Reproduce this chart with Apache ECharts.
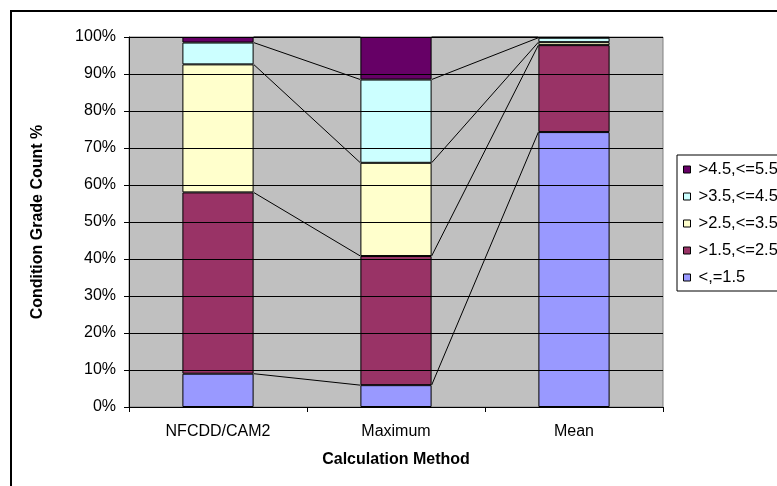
<!DOCTYPE html>
<html>
<head>
<meta charset="utf-8">
<script src="https://cdn.jsdelivr.net/npm/echarts@6/dist/echarts.min.js"></script>
<style>
  html, body { margin: 0; padding: 0; background: #fff; }
  #chart { width: 777px; height: 486px; }
</style>
</head>
<body>
<div id="chart"></div>
<script>
// Calculation methods on the category axis
const methods = ['NFCDD/CAM2', 'Maximum', 'Mean'];

// Share of condition grades (%) per method, bottom band first
const grade_le_1_5 = [9.0, 5.9, 74.3];
const grade_1_5_2_5 = [49.0, 34.9, 23.5];
const grade_2_5_3_5 = [34.6, 25.2, 0.8];
const grade_3_5_4_5 = [5.9, 22.5, 1.2];
const grade_4_5_5_5 = [1.5, 11.5, 0.2];

const bandNames = ['<,=1.5', '>1.5,<=2.5', '>2.5,<=3.5', '>3.5,<=4.5', '>4.5,<=5.5'];
const bandValues = [grade_le_1_5, grade_1_5_2_5, grade_2_5_3_5, grade_3_5_4_5, grade_4_5_5_5];
const bandColors = ['#9999FF', '#993366', '#FFFFCC', '#CCFFFF', '#660066'];

const yTicks = [0, 10, 20, 30, 40, 50, 60, 70, 80, 90, 100];

const FONT = 'Liberation Sans, Arial, sans-serif';
const BAR_RATIO = 0.4;

// Running tops of each band, used for the series lines between columns
const tops = [];
bandValues.forEach(function (vals, s) {
  tops.push(vals.map(function (v, i) {
    return (s > 0 ? tops[s - 1][i] : 0) + v;
  }));
});

// One line item per band and per pair of neighbouring columns
const seriesLineData = [];
tops.forEach(function (t, s) {
  for (let i = 0; i < methods.length - 1; i++) {
    seriesLineData.push([i, t[i], i + 1, t[i + 1]]);
  }
});

const chart = echarts.init(document.getElementById('chart'));

const barSeries = bandNames.map(function (name, s) {
  return {
    name: name,
    type: 'bar',
    stack: 'total',
    barWidth: (BAR_RATIO * 100) + '%',
    data: bandValues[s],
    itemStyle: { color: bandColors[s], borderColor: '#000', borderWidth: 1 },
    emphasis: { disabled: true },
    z: 3
  };
});

chart.setOption({
  animation: false,
  backgroundColor: '#ffffff',
  textStyle: { fontFamily: FONT },
  grid: { left: 129, right: 114, top: 37, bottom: 79, show: true,
          backgroundColor: '#C0C0C0', borderColor: '#808080', borderWidth: 1 },
  legend: {
    orient: 'vertical',
    left: 677, top: 155,
    data: bandNames.slice().reverse(),
    itemWidth: 7, itemHeight: 7, itemGap: 10,
    icon: 'rect',
    padding: [6, 12, 5, 6],
    borderColor: '#000', borderWidth: 1,
    backgroundColor: '#fff',
    textStyle: { fontFamily: FONT, fontSize: 16.5, color: '#000', padding: [0, 0, 0, 3] },
    itemStyle: { borderColor: '#000', borderWidth: 1 },
    selectedMode: false
  },
  xAxis: {
    type: 'category',
    data: methods,
    name: 'Calculation Method',
    nameLocation: 'middle',
    nameGap: 45,
    nameTextStyle: { fontFamily: FONT, fontSize: 16, fontWeight: 'bold', color: '#000' },
    axisLine: { lineStyle: { color: '#000', width: 1 } },
    axisTick: { show: true, length: 5, lineStyle: { color: '#000' } },
    axisLabel: { fontFamily: FONT, fontSize: 16, color: '#000', margin: 17 },
    z: 5
  },
  yAxis: {
    type: 'value',
    min: yTicks[0], max: yTicks[yTicks.length - 1], interval: yTicks[1] - yTicks[0],
    name: 'Condition Grade Count %',
    nameLocation: 'middle',
    nameGap: 83,
    nameTextStyle: { fontFamily: FONT, fontSize: 16, fontWeight: 'bold', color: '#000' },
    axisLine: { show: true, lineStyle: { color: '#000', width: 1 } },
    axisTick: { show: true, length: 5, lineStyle: { color: '#000' } },
    axisLabel: { fontFamily: FONT, fontSize: 16, color: '#000', margin: 13,
                 formatter: function (v) { return v + '%'; } },
    splitLine: { show: true, lineStyle: { color: '#000', width: 1 } },
    z: 5
  },
  series: barSeries.concat([{
    type: 'custom',
    name: 'series lines',
    silent: true,
    z: 4,
    data: seriesLineData,
    encode: { x: [0, 2], y: [1, 3] },
    renderItem: function (params, api) {
      const p1 = api.coord([api.value(0), api.value(1)]);
      const p2 = api.coord([api.value(2), api.value(3)]);
      const half = api.size([1, 0])[0] * BAR_RATIO / 2;
      return {
        type: 'line',
        shape: { x1: p1[0] + half, y1: p1[1], x2: p2[0] - half, y2: p2[1] },
        style: { stroke: '#000', lineWidth: 1 }
      };
    }
  }]),
  graphic: [{
    type: 'rect',
    shape: { x: 11, y: 11, width: 800, height: 500 },
    style: { fill: null, stroke: '#000', lineWidth: 2 },
    silent: true,
    z: 10
  }]
});
</script>
</body>
</html>
